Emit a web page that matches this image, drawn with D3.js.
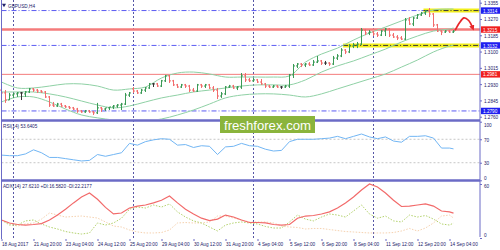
<!DOCTYPE html>
<html><head><meta charset="utf-8">
<script src="https://cdn.jsdelivr.net/npm/d3@7"></script>
<style>
body{margin:0;background:#fff}
svg{display:block}
text{font-family:"Liberation Sans",Arial,sans-serif}
</style></head><body><svg id="chart"></svg>
<script>
// GBPUSD H4, one bar every 4 hours from 18 Aug 2017 12:00
var priceOpen = [1.2899,1.2884,1.2847,1.2873,1.2879,1.2884,1.2879,1.2889,1.2905,1.2899,1.2894,1.2889,1.2863,1.2821,1.2816,1.2826,1.2816,1.2811,1.2806,1.2800,
  1.2790,1.2785,1.2790,1.2785,1.2780,1.2806,1.2800,1.2806,1.2811,1.2816,1.2821,1.2826,1.2873,1.2905,1.2894,1.2884,1.2899,1.2910,1.2931,1.2931,
  1.2920,1.2947,1.2973,1.2947,1.2926,1.2915,1.2926,1.2920,1.2899,1.2894,1.2926,1.2920,1.2926,1.2910,1.2899,1.2868,1.2879,1.2915,1.2920,1.2910,
  1.2915,1.2973,1.2952,1.2947,1.2952,1.2941,1.2931,1.2920,1.2915,1.2920,1.2915,1.2915,1.2920,1.2978,1.3025,1.3035,1.3030,1.3035,1.3030,1.3045,
  1.3051,1.3040,1.3040,1.3035,1.3066,1.3077,1.3108,1.3098,1.3129,1.3134,1.3139,1.3212,1.3197,1.3202,1.3192,1.3186,1.3207,1.3218,1.3186,1.3176,
  1.3171,1.3165,1.3265,1.3244,1.3275,1.3291,1.3301,1.3312,1.3296,1.3239,1.3207,1.3202,1.3207,1.3202];
var priceHigh = [1.2910,1.2899,1.2884,1.2884,1.2889,1.2889,1.2894,1.2910,1.2910,1.2905,1.2899,1.2894,1.2868,1.2837,1.2832,1.2832,1.2821,1.2816,1.2811,1.2806,
  1.2795,1.2795,1.2795,1.2790,1.2832,1.2811,1.2806,1.2811,1.2821,1.2826,1.2832,1.2884,1.2889,1.2915,1.2899,1.2905,1.2915,1.2936,1.2936,1.2936,
  1.2952,1.2978,1.2978,1.2952,1.2931,1.2931,1.2931,1.2926,1.2910,1.2931,1.2931,1.2931,1.2931,1.2920,1.2910,1.2889,1.2920,1.2926,1.2926,1.2920,
  1.2988,1.2988,1.2962,1.2962,1.2957,1.2957,1.2936,1.2926,1.2926,1.2926,1.2920,1.2926,1.2983,1.3035,1.3040,1.3040,1.3040,1.3045,1.3056,1.3077,
  1.3056,1.3051,1.3045,1.3077,1.3087,1.3118,1.3113,1.3139,1.3145,1.3150,1.3223,1.3218,1.3212,1.3207,1.3202,1.3212,1.3223,1.3223,1.3197,1.3186,
  1.3181,1.3275,1.3280,1.3280,1.3296,1.3307,1.3317,1.3327,1.3301,1.3244,1.3212,1.3212,1.3212,1.3212];
var priceLow = [1.2873,1.2832,1.2847,1.2858,1.2863,1.2847,1.2863,1.2884,1.2889,1.2884,1.2884,1.2858,1.2811,1.2811,1.2811,1.2811,1.2806,1.2800,1.2795,1.2780,
  1.2780,1.2780,1.2780,1.2769,1.2774,1.2785,1.2790,1.2795,1.2800,1.2806,1.2795,1.2821,1.2863,1.2884,1.2879,1.2879,1.2889,1.2905,1.2915,1.2915,
  1.2915,1.2941,1.2936,1.2920,1.2910,1.2910,1.2910,1.2889,1.2889,1.2889,1.2910,1.2910,1.2905,1.2889,1.2852,1.2858,1.2873,1.2910,1.2905,1.2899,
  1.2905,1.2941,1.2941,1.2941,1.2936,1.2926,1.2910,1.2910,1.2910,1.2910,1.2905,1.2910,1.2910,1.2962,1.3014,1.3019,1.3019,1.3025,1.3025,1.3040,
  1.3030,1.3030,1.3025,1.3030,1.3056,1.3071,1.3087,1.3092,1.3118,1.3118,1.3134,1.3186,1.3186,1.3181,1.3176,1.3181,1.3181,1.3176,1.3171,1.3160,
  1.3160,1.3160,1.3239,1.3233,1.3270,1.3286,1.3291,1.3280,1.3228,1.3202,1.3186,1.3197,1.3197,1.3197];
var priceClose = [1.2884,1.2847,1.2873,1.2879,1.2884,1.2884,1.2889,1.2905,1.2899,1.2894,1.2889,1.2863,1.2821,1.2816,1.2826,1.2816,1.2811,1.2806,1.2800,1.2790,
  1.2785,1.2790,1.2785,1.2780,1.2806,1.2800,1.2806,1.2811,1.2816,1.2821,1.2826,1.2873,1.2884,1.2894,1.2884,1.2899,1.2910,1.2931,1.2931,1.2920,
  1.2947,1.2973,1.2947,1.2926,1.2915,1.2926,1.2920,1.2899,1.2894,1.2926,1.2920,1.2926,1.2910,1.2899,1.2868,1.2879,1.2915,1.2920,1.2910,1.2915,
  1.2973,1.2952,1.2947,1.2952,1.2941,1.2931,1.2920,1.2915,1.2920,1.2915,1.2915,1.2920,1.2978,1.3025,1.3035,1.3030,1.3035,1.3030,1.3045,1.3051,
  1.3040,1.3040,1.3035,1.3066,1.3077,1.3108,1.3098,1.3129,1.3134,1.3139,1.3212,1.3197,1.3202,1.3192,1.3186,1.3207,1.3218,1.3186,1.3176,1.3171,
  1.3165,1.3265,1.3244,1.3275,1.3291,1.3301,1.3312,1.3296,1.3239,1.3207,1.3202,1.3207,1.3202,1.3207];

// bollinger bands read every 4 bars (last value = last bar)
var bbUpper = [1.2941,1.2910,1.2910,1.2920,1.2931,1.2931,1.2920,1.2899,1.2905,1.2915,1.2962,1.2988,1.2993,1.2983,1.2967,
  1.2967,1.2967,1.2967,1.2973,1.3045,1.3087,1.3118,1.3160,1.3197,1.3228,1.3260,1.3291,1.3317,1.3322,1.3322];
var bbMiddle = [1.2889,1.2889,1.2889,1.2879,1.2863,1.2842,1.2821,1.2806,1.2816,1.2837,1.2858,1.2873,1.2889,1.2899,1.2910,
  1.2920,1.2926,1.2926,1.2926,1.2952,1.2993,1.3025,1.3051,1.3082,1.3113,1.3150,1.3181,1.3207,1.3218,1.3223];
var bbLower = [1.2837,1.2863,1.2863,1.2837,1.2800,1.2769,1.2754,1.2743,1.2738,1.2738,1.2748,1.2769,1.2795,1.2826,1.2858,
  1.2873,1.2879,1.2879,1.2873,1.2863,1.2879,1.2905,1.2931,1.2957,1.2983,1.3019,1.3056,1.3098,1.3129,1.3134];

// oscillators read every 2 bars (last value = last bar)
var rsi = [43,42,42,45,52,47,39,39,37,35,33,34,44,41,44,47,63,60,66,69,71,70,60,61,56,59,58,44,57,58,
  63,59,58,53,50,51,66,70,70,70,71,72,75,71,75,79,74,71,74,67,65,75,75,76,72,55,55,53.64];
var adx = [20,16.7,15,14.4,15,16,20,25.5,32,39,45.5,50,43,34,26.7,27.8,33.3,35.5,36.7,39,42,46.7,39,32,26.7,22,19.4,21,25.5,23.3,
  20,17.2,17.2,16.7,15,14.4,15,22,24.4,25,26.7,29,33.3,39,45.5,53.3,60,56.7,50,42,35,35.5,36.7,37.8,35.5,30,29,27.62];
var plusDI = [20,14.4,14.4,19,20,15.6,12.2,10,7.2,5.6,4.4,5.6,16.7,14.4,16.7,22,32,34.4,33.3,36.7,34.4,37.8,29,23.3,19,16.7,12.2,7.8,14.4,16.7,
  17.8,16.7,15.6,12.8,11.1,11.1,17.8,25.5,21,19,23.3,26.7,25.5,23.3,30,36.7,26.7,22,24.4,19,17.8,25.5,23.3,25,21,15.6,14.4,16.58];
var minusDI = [20,15.6,13.3,15.6,16.7,21,27.8,25.5,23.3,23.9,24.4,23.3,22.2,17.8,13.3,12.2,8.9,6.7,5.6,5.6,6.1,8.9,16.7,17.2,16.7,16.7,17.8,24.4,24.4,22.2,
  20,17.8,17.8,17.8,16.7,13.3,12.2,11.7,10,10.6,10.6,9.4,8.3,7.2,6.7,6.1,5.6,5.6,5.6,6.1,7.8,10.6,7.8,11.1,16.7,24.4,25.5,22.22];

var priceTicks = [1.3355,1.3270,1.3185,1.3100,1.3015,1.2930,1.2845,1.2760];
var rsiTicks = [100,70,30,0];
var adxTicks = [60,0];
var timeLabels = ["18 Aug 2017","21 Aug 20:00","23 Aug 04:00","24 Aug 12:00","25 Aug 20:00","29 Aug 04:00","30 Aug 12:00",
  "31 Aug 20:00","4 Sep 04:00","5 Sep 12:00","6 Sep 20:00","8 Sep 04:00","11 Sep 12:00","12 Sep 20:00","14 Sep 04:00"];
var weekStartBars = [3,33,63,93];

// analyst levels
var dashLevels = [1.3314,1.3132,1.2790];
var redLevels = [1.3215,1.2981];
var zoneLevels = [1.3314,1.3132];
var zoneFromBar = [105.5,85.4];
var arrowPath = [[113.4,1.3210],[114.5,1.3250],[115.6,1.3276],[116.8,1.3262],[117.7,1.3228]];

var W = 500, H = 250, axisX = 480;
var frame = '#6b6bc6', ink = '#22226a';
var n = priceClose.length;

var svg = d3.select('#chart').attr('width', W).attr('height', H);
svg.append('rect').attr('width', W).attr('height', H).attr('fill', '#fff');

var x = d3.scaleLinear().domain([0, n - 1]).range([1.5, 1.5 + 4 * (n - 1)]);
var yP = d3.scaleLinear().domain([1.3355, 1.2760]).range([2.7, 116.7]);
var yR = d3.scaleLinear().domain([0, 100]).range([180.3, 121.7]);
var yA = d3.scaleLinear().domain([0, 60]).range([238, 184]);

var every = step => (d, k) => x(Math.min(k * step, n - 1));

var defs = svg.append('defs');
defs.append('clipPath').attr('id', 'mainClip').append('rect')
  .attr('x', 0).attr('y', 0).attr('width', axisX).attr('height', 119);
defs.append('marker').attr('id', 'ah').attr('viewBox', '0 0 10 10')
  .attr('refX', 3).attr('refY', 5).attr('markerWidth', 3.2).attr('markerHeight', 3.2)
  .attr('orient', 'auto')
  .append('path').attr('d', 'M0,0L10,5L0,10z').attr('fill', '#e8262a');

// week separators over all panels
svg.append('g').selectAll('line').data(weekStartBars).join('line')
  .attr('x1', d => x(d)).attr('x2', d => x(d)).attr('y1', 0).attr('y2', 239)
  .attr('stroke', '#5656a6').attr('stroke-dasharray', '2,2');

// ---- main panel
var main = svg.append('g').attr('clip-path', 'url(#mainClip)');

main.selectAll('line.lvl').data(dashLevels).join('line').attr('class', 'lvl')
  .attr('x1', 1.5).attr('x2', axisX).attr('y1', d => yP(d)).attr('y2', d => yP(d))
  .attr('stroke', '#5c5cf2').attr('stroke-dasharray', '5,2,1,2');

main.selectAll('line.zone').data(zoneLevels).join('line').attr('class', 'zone')
  .attr('x1', (d, i) => x(zoneFromBar[i])).attr('x2', axisX - 1)
  .attr('y1', d => yP(d)).attr('y2', d => yP(d))
  .attr('stroke', '#f2ef1c').attr('stroke-width', 4);
main.selectAll('line.zoneDash').data(zoneLevels).join('line').attr('class', 'zoneDash')
  .attr('x1', (d, i) => x(zoneFromBar[i])).attr('x2', axisX - 1)
  .attr('y1', d => yP(d)).attr('y2', d => yP(d))
  .attr('stroke', '#3a3a3a').attr('stroke-dasharray', '5,2,1,2');

main.selectAll('line.red').data(redLevels).join('line').attr('class', 'red')
  .attr('x1', 1.5).attr('x2', axisX).attr('y1', d => yP(d)).attr('y2', d => yP(d))
  .attr('stroke', '#f47b7b').attr('stroke-width', (d, i) => i === 0 ? 2.6 : 1);

var bbLine = d3.line().x(every(4)).y(d => yP(d)).curve(d3.curveCatmullRom);
[bbUpper, bbMiddle, bbLower].forEach(s => {
  main.append('path').attr('d', bbLine(s)).attr('fill', 'none')
    .attr('stroke', '#8fd1a5').attr('stroke-width', 1);
});

main.selectAll('path.bar').data(priceClose).join('path').attr('class', 'bar')
  .attr('d', (c, i) => {
    var xi = x(i);
    return 'M' + xi + ',' + yP(priceHigh[i]) + 'V' + yP(priceLow[i]) +
      'M' + (xi - 1.5) + ',' + yP(priceOpen[i]) + 'H' + xi +
      'M' + xi + ',' + yP(c) + 'H' + (xi + 1.5);
  })
  .attr('fill', 'none')
  .attr('stroke', (c, i) => c > priceOpen[i] ? '#3a9a55' : c < priceOpen[i] ? '#f26b6b' : '#333');

// ---- RSI panel
svg.append('g').selectAll('line').data([70, 30]).join('line')
  .attr('x1', 1.5).attr('x2', axisX).attr('y1', d => yR(d)).attr('y2', d => yR(d))
  .attr('stroke', '#c6c6c6').attr('stroke-dasharray', '2,2');
svg.append('path').attr('d', d3.line().x(every(2)).y(d => yR(d))(rsi))
  .attr('fill', 'none').attr('stroke', '#72b6f4').attr('stroke-width', 1);

// ---- ADX panel
var adxLine = d3.line().x(every(2)).y(d => yA(d));
svg.append('path').attr('d', adxLine(minusDI)).attr('fill', 'none')
  .attr('stroke', '#f6d2b0').attr('stroke-dasharray', '1.5,1.5');
svg.append('path').attr('d', adxLine(plusDI)).attr('fill', 'none')
  .attr('stroke', '#b3d26c').attr('stroke-dasharray', '1.5,1.5');
svg.append('path').attr('d', adxLine(adx)).attr('fill', 'none')
  .attr('stroke', '#f26a6a').attr('stroke-width', 1.2);

// ---- frame
svg.append('line').attr('x1', 1.5).attr('x2', 1.5).attr('y1', 0).attr('y2', 239).attr('stroke', frame);
svg.append('line').attr('x1', axisX).attr('x2', axisX).attr('y1', 0).attr('y2', 237).attr('stroke', frame);
svg.selectAll('line.sep').data([120.5, 180.5]).join('line').attr('class', 'sep')
  .attr('x1', 1).attr('x2', axisX).attr('y1', d => d).attr('y2', d => d)
  .attr('stroke', frame).attr('stroke-width', 2.6);

// ---- axes
function styleAxis(g) {
  g.select('.domain').remove();
  g.selectAll('line').attr('stroke', frame);
  g.selectAll('text').attr('fill', ink).attr('font-size', 6)
    .attr('font-family', '"Liberation Sans",Arial,sans-serif')
    .attr('transform', 'scale(0.78,1)');
}
svg.append('g').attr('transform', 'translate(' + axisX + ',0)')
  .call(d3.axisRight(yP).tickValues(priceTicks).tickSize(2).tickPadding(3).tickFormat(d3.format('.4f')))
  .call(styleAxis);
var ra = svg.append('g').attr('transform', 'translate(' + axisX + ',0)')
  .call(d3.axisRight(yR).tickValues(rsiTicks).tickSize(2).tickPadding(3))
  .call(styleAxis);
ra.selectAll('text').attr('dy', d => d === 100 ? '0.85em' : d === 0 ? '-0.2em' : '0.32em');
var aa = svg.append('g').attr('transform', 'translate(' + axisX + ',0)')
  .call(d3.axisRight(yA).tickValues(adxTicks).tickSize(2).tickPadding(3))
  .call(styleAxis);
aa.selectAll('text').attr('dy', d => d === 0 ? '-0.2em' : '0.5em');

svg.append('g').attr('transform', 'translate(0,239)')
  .call(d3.axisBottom(x).tickValues(d3.range(0, n, 8)).tickSize(2).tickPadding(1)
    .tickFormat((d, i) => timeLabels[i]))
  .call(styleAxis)
  .selectAll('text').attr('text-anchor', 'start');

// level tags on the price scale
var tags = svg.append('g');
var tagData = dashLevels.map(v => ({v: v, c: '#1f1ff0'})).concat(redLevels.map(v => ({v: v, c: '#f01e1e'})));
tags.selectAll('rect').data(tagData).join('rect')
  .attr('x', axisX + 1).attr('y', d => yP(d.v) - 3.2).attr('width', W - axisX - 1).attr('height', 6.4)
  .attr('fill', d => d.c);
tags.selectAll('text').data(tagData).join('text')
  .attr('transform', d => 'translate(' + (axisX + 3) + ',' + yP(d.v) + ') scale(0.78,1)')
  .attr('dy', '0.35em').attr('font-size', 6).attr('fill', '#fff')
  .text(d => d3.format('.4f')(d.v));

// panel titles
function title(txt, y) {
  svg.append('text').attr('transform', 'translate(3,' + y + ') scale(0.78,1)')
    .attr('font-size', 6).attr('fill', ink).text(txt);
}
svg.append('path').attr('d', d3.symbol(d3.symbolTriangle, 7)())
  .attr('transform', 'translate(4,5) rotate(180)').attr('fill', ink);
svg.append('text').attr('transform', 'translate(8,7.5) scale(0.78,1)')
  .attr('font-size', 6).attr('fill', ink).text('GBPUSD,H4');
title('RSI(14) 53.6405', 127.5);
title('ADX(14) 27.6210 +DI:16.5820 -DI:22.2177', 188);

// forecast arrow
svg.append('path')
  .attr('d', d3.line().x(d => x(d[0])).y(d => yP(d[1])).curve(d3.curveCatmullRom)(arrowPath))
  .attr('fill', 'none').attr('stroke', '#e8262a').attr('stroke-width', 1.7)
  .attr('marker-end', 'url(#ah)');

// watermark
svg.append('rect').attr('x', 220).attr('y', 116).attr('width', 95).attr('height', 17).attr('fill', '#8ab43c');
svg.append('text').attr('x', 224).attr('y', 129.5).attr('font-size', 13)
  .attr('font-family', '"Open Sans","DejaVu Sans",sans-serif')
  .attr('textLength', 87).attr('lengthAdjust', 'spacingAndGlyphs')
  .attr('fill', '#fff').text('freshforex.com');
</script></body></html>
